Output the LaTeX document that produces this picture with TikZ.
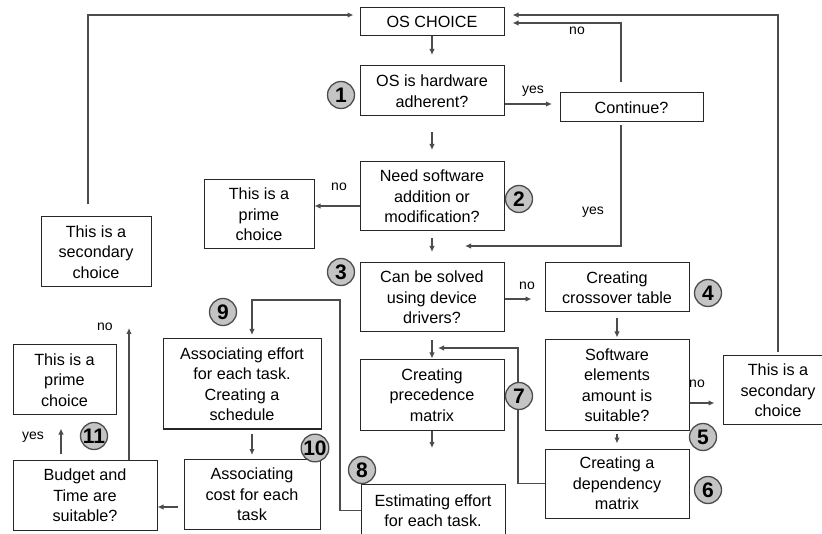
\documentclass[tikz,border=0pt]{standalone}
\usepackage{fontspec}
\setmainfont{Liberation Sans}
\usetikzlibrary{arrows.meta}

\newcommand\bxfont{\fontsize{16.2}{20.5}\selectfont}
\newcommand\lbfont{\fontsize{14}{16}\selectfont}
\newcommand\nmfont{\fontsize{21}{21}\selectfont\bfseries}

\tikzset{
  box/.style={draw=black!85, line width=1pt, fill=white, align=center, inner sep=0pt, font=\bxfont},
  num/.style={circle, draw=black!70, fill=black!23, line width=1.3pt, minimum size=27pt, inner sep=0pt, font=\nmfont},
  arr/.style={draw=black!70, line width=1.3pt, -{Latex[length=6pt,width=5.5pt]}},
  lbl/.style={inner sep=0pt, font=\lbfont}
}

\begin{document}
\begin{tikzpicture}[x=1pt, y=-1pt]
\useasboundingbox (0,0) rectangle (822,534);
% Middle column
\node[box, minimum width=144pt, minimum height=28pt] (choice) at (432,22) {OS CHOICE};
\node[box, minimum width=144pt, minimum height=50pt] (hw) at (432,91) {OS is hardware\\adherent?};
\node[box, minimum width=143pt, minimum height=29pt] (cont) at (631.5,107.5) {Continue?};
\node[box, minimum width=144pt, minimum height=69pt] (sw) at (432,196.5) {Need software\\addition or\\modification?};
\node[box, minimum width=144pt, minimum height=69pt] (drv) at (432,297.5) {Can be solved\\using device\\drivers?};
\node[box, minimum width=144pt, minimum height=70pt] (prec) at (432,395) {Creating\\precedence\\matrix};
\node[box, minimum width=144pt, minimum height=52pt] (est) at (433,510.5) {Estimating effort\\for each task.};
% Right column
\node[box, minimum width=144pt, minimum height=49pt] (cross) at (617,287.5) {Creating\\crossover table};
\node[box, minimum width=144pt, minimum height=90pt] (amount) at (617,385) {Software\\elements\\amount is\\suitable?};
\node[box, minimum width=144pt, minimum height=69pt] (dep) at (617,483.5) {Creating a\\dependency\\matrix};
\node[box, minimum width=110pt, minimum height=69pt] (sec2) at (778,390.5) {This is a\\secondary\\choice};
% Left part
\node[box, minimum width=110pt, minimum height=69pt] (prime1) at (259,214.5) {This is a\\prime\\choice};
\node[box, minimum width=110pt, minimum height=70pt] (sec1) at (96,252) {This is a\\secondary\\choice};
\node[box, minimum width=158pt, minimum height=90pt] (sched) at (242,384) {Associating effort\\for each task.\\Creating a\\schedule};
\node[box, minimum width=136pt, minimum height=70pt] (cost) at (252,494.5) {Associating\\cost for each\\task};
\node[box, minimum width=144pt, minimum height=70pt] (budget) at (85,495.5) {Budget and\\Time are\\suitable?};
\node[box, minimum width=103pt, minimum height=70pt] (prime2) at (64.5,380) {This is a\\prime\\choice};

% Bend points and free ends
\coordinate (t1) at (432,55);
\coordinate (t2) at (432,150);
\coordinate (t3) at (552,104);
\coordinate (k1) at (621,83);
\coordinate (k2) at (513,23);
\coordinate (k3) at (88,205);
\coordinate (k4) at (0,206);
\coordinate (t5) at (432,252);
\coordinate (t6) at (465,246);
\coordinate (k5) at (0,299);
\coordinate (k7) at (0,403);
\coordinate (k8) at (518,348);
\coordinate (t8) at (438,348);
\coordinate (t9) at (432,448);
\coordinate (k10) at (340,300);
\coordinate (t10) at (252,335);
\coordinate (k11) at (0,507);
\coordinate (k12) at (61,0);
\coordinate (t13) at (129,328);

% Top part
\draw[arr] (choice.south -| t1) -- (t1);
\draw[arr, shorten <=16pt] (hw.south -| t2) -- (t2);
\draw[arr] (hw.east |- t3) -- (t3);
\node[lbl] (yes1) at (533,91) {yes};
\draw[arr, shorten <=10pt, shorten >=8pt] (cont.north -| k1) |- (choice.east |- k2);
\node[lbl] (no1) at (577,31) {no};
\draw[arr, shorten <=3pt, shorten >=8pt] (sec2.north) |- ([yshift=7pt]choice.east);
\draw[arr, shorten <=12pt, shorten >=6pt] (sec1.north -| k3) |- ([yshift=7pt]choice.west);
\draw[arr] (sw.west |- k4) -- (prime1.east |- k4);
\node[lbl] (no2) at (339,187) {no};
\draw[arr, shorten <=7pt] (sw.south -| t5) -- (t5);
\draw[arr, shorten <=3pt] (cont.south -| k1) |- (t6);
\node[lbl] (yes2) at (593,212) {yes};

% Right part
\draw[arr, shorten >=13pt] (drv.east |- k5) -- (cross.west |- k5);
\node[lbl] (no3) at (527,286) {no};
\draw[arr, shorten <=6pt, shorten >=2pt] (cross.south) -- (amount.north);
\draw[arr, shorten >=8pt] (amount.east |- k7) -- (sec2.west |- k7);
\node[lbl] (no4) at (697,384) {no};
\draw[arr, shorten <=3pt, shorten >=5pt] (amount.south) -- (dep.north);
\draw[arr] (dep.west) -| (k8) -- (t8);

% Lower part
\draw[arr, shorten <=8pt, shorten >=1pt] (drv.south -| t1) -- (prec.north -| t1);
\draw[arr] (prec.south -| t9) -- (t9);
\draw[arr] (est.west) -| (k10) -| (t10);
\draw[arr, shorten <=4pt, shorten >=4pt] (sched.south -| cost.north) -- (cost.north);
\draw[arr, shorten <=6pt] (cost.west |- k11) -- (budget.east |- k11);
\draw[arr, shorten <=6pt, shorten >=13pt] (budget.north -| k12) -- (prime2.south -| k12);
\node[lbl] (yes3) at (33,437) {yes};
\draw[arr] (budget.north -| t13) -- (t13);
\node[lbl] (no5) at (105,327) {no};

% Step numbers
\node[num] (n1) at (341,95) {1};
\node[num] (n2) at (519,199) {2};
\node[num] (n3) at (341,272) {3};
\node[num] (n4) at (708,293) {4};
\node[num] (n5) at (703,437) {5};
\node[num] (n6) at (708,490) {6};
\node[num] (n7) at (519,396) {7};
\node[num] (n8) at (362,470) {8};
\node[num] (n9) at (223,312) {9};
\node[num] (n10) at (315,448) {10};
\node[num] (n11) at (94,436) {11};
\end{tikzpicture}
\end{document}
